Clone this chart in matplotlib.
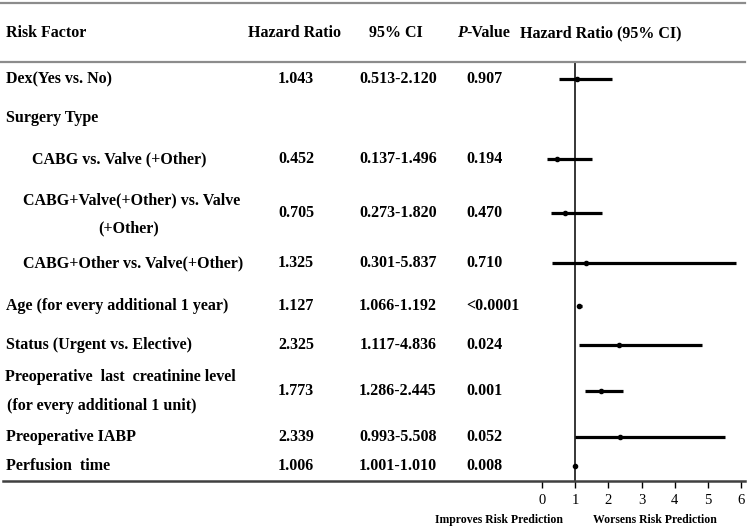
import matplotlib
matplotlib.use("Agg")
import matplotlib.pyplot as plt
from matplotlib.lines import Line2D

# ---------------- data ----------------
factors = ["Dex(Yes vs. No)", "Surgery Type", "CABG vs. Valve (+Other)",
           "CABG+Valve(+Other) vs. Valve\n(+Other)", "CABG+Other vs. Valve(+Other)",
           "Age (for every additional 1 year)", "Status (Urgent vs. Elective)",
           "Preoperative  last  creatinine level\n(for every additional 1 unit)",
           "Preoperative IABP", "Perfusion  time"]
hazard_ratio = [1.043, None, 0.452, 0.705, 1.325, 1.127, 2.325, 1.773, 2.339, 1.006]
ci_lower = [0.513, None, 0.137, 0.273, 0.301, 1.066, 1.117, 1.286, 0.993, 1.001]
ci_upper = [2.120, None, 1.496, 1.820, 5.837, 1.192, 4.836, 2.445, 5.508, 1.010]
p_values = ["0.907", "", "0.194", "0.470", "0.710", "<0.0001", "0.024", "0.001", "0.052", "0.008"]
x_ticks = [0, 1, 2, 3, 4, 5, 6]

# ---------------- layout ----------------
W, H = 750, 528
row_y = [79, 118, 159, 213, 263, 306, 345, 391, 437, 466]
label_x = [6, 6, 32, 23, 23, 6, 6, 6, 6, 6]

def fx(px):
    return px / W

def fy(py):
    return 1 - py / H

FONT = "Liberation Serif"
fs = 11.5

fig = plt.figure(figsize=(7.5, 5.28), dpi=100)
fig.patch.set_facecolor("white")

# horizontal rules
fig.add_artist(Line2D([fx(0), fx(745)], [fy(3), fy(3)], color="#8c8c8c", lw=1.6))
fig.add_artist(Line2D([fx(0), fx(745)], [fy(62), fy(62)], color="#8c8c8c", lw=1.6))
fig.add_artist(Line2D([fx(3), fx(745)], [fy(481), fy(481)], color="#404040", lw=1.8))

# headers
hdr = dict(fontfamily=FONT, fontweight="bold", fontsize=fs, va="center")
fig.text(fx(6), fy(33), "Risk Factor", ha="left", **hdr)
fig.text(fx(295), fy(33), "Hazard Ratio", ha="center", **hdr)
fig.text(fx(396), fy(33), "95% CI", ha="center", **hdr)
fig.text(fx(457), fy(33), "P", ha="left", fontstyle="italic", **hdr)
fig.text(fx(466), fy(33), "-Value", ha="left", **hdr)
fig.text(fx(601), fy(33), "Hazard Ratio (95% CI)", ha="center", **hdr)

# table rows
for i, name in enumerate(factors):
    y = row_y[i]
    if "\n" in name:
        l1, l2 = name.split("\n")
        if i == 3:
            fig.text(fx(23), fy(y - 13), l1, ha="left", **hdr)
            fig.text(fx(98), fy(y + 15), l2, ha="left", **hdr)
        else:
            fig.text(fx(5), fy(y - 14), l1, ha="left", **hdr)
            fig.text(fx(7), fy(y + 15), l2, ha="left", **hdr)
    else:
        fig.text(fx(label_x[i]), fy(y), name, ha="left", **hdr)
    if hazard_ratio[i] is not None:
        fig.text(fx(296), fy(y), f"{hazard_ratio[i]:.3f}", ha="center", **hdr)
        fig.text(fx(398), fy(y), f"{ci_lower[i]:.3f}-{ci_upper[i]:.3f}", ha="center", **hdr)
        fig.text(fx(466), fy(y), p_values[i], ha="left", **hdr)

# forest plot axes
ax = fig.add_axes([fx(542), fy(481), fx(741) - fx(542), fy(62) - fy(481)])
ax.set_xlim(0, 6)
ax.set_ylim(481, 62)
for s in ax.spines.values():
    s.set_visible(False)
ax.axvline(1, color="black", lw=1.1)
for i in range(len(factors)):
    if hazard_ratio[i] is None:
        continue
    ax.plot([ci_lower[i], ci_upper[i]], [row_y[i], row_y[i]], color="black", lw=2.3,
            solid_capstyle="butt", clip_on=False)
    ax.plot(hazard_ratio[i], row_y[i], "o", color="black", ms=3, clip_on=False)
ax.set_xticks(x_ticks)
ax.set_xticklabels([str(t) for t in x_ticks], fontfamily=FONT, fontsize=10.5)
ax.set_yticks([])
ax.tick_params(axis="x", direction="out", length=5, width=1, pad=4, colors="black")
ax.patch.set_alpha(0)

# footer labels
ft = dict(fontfamily=FONT, fontweight="bold", fontsize=8.5, va="center", ha="center")
fig.text(fx(499), fy(520), "Improves Risk Prediction", **ft)
fig.text(fx(655), fy(520), "Worsens Risk Prediction", **ft)

fig.savefig("out.png", dpi=100, facecolor="white")
